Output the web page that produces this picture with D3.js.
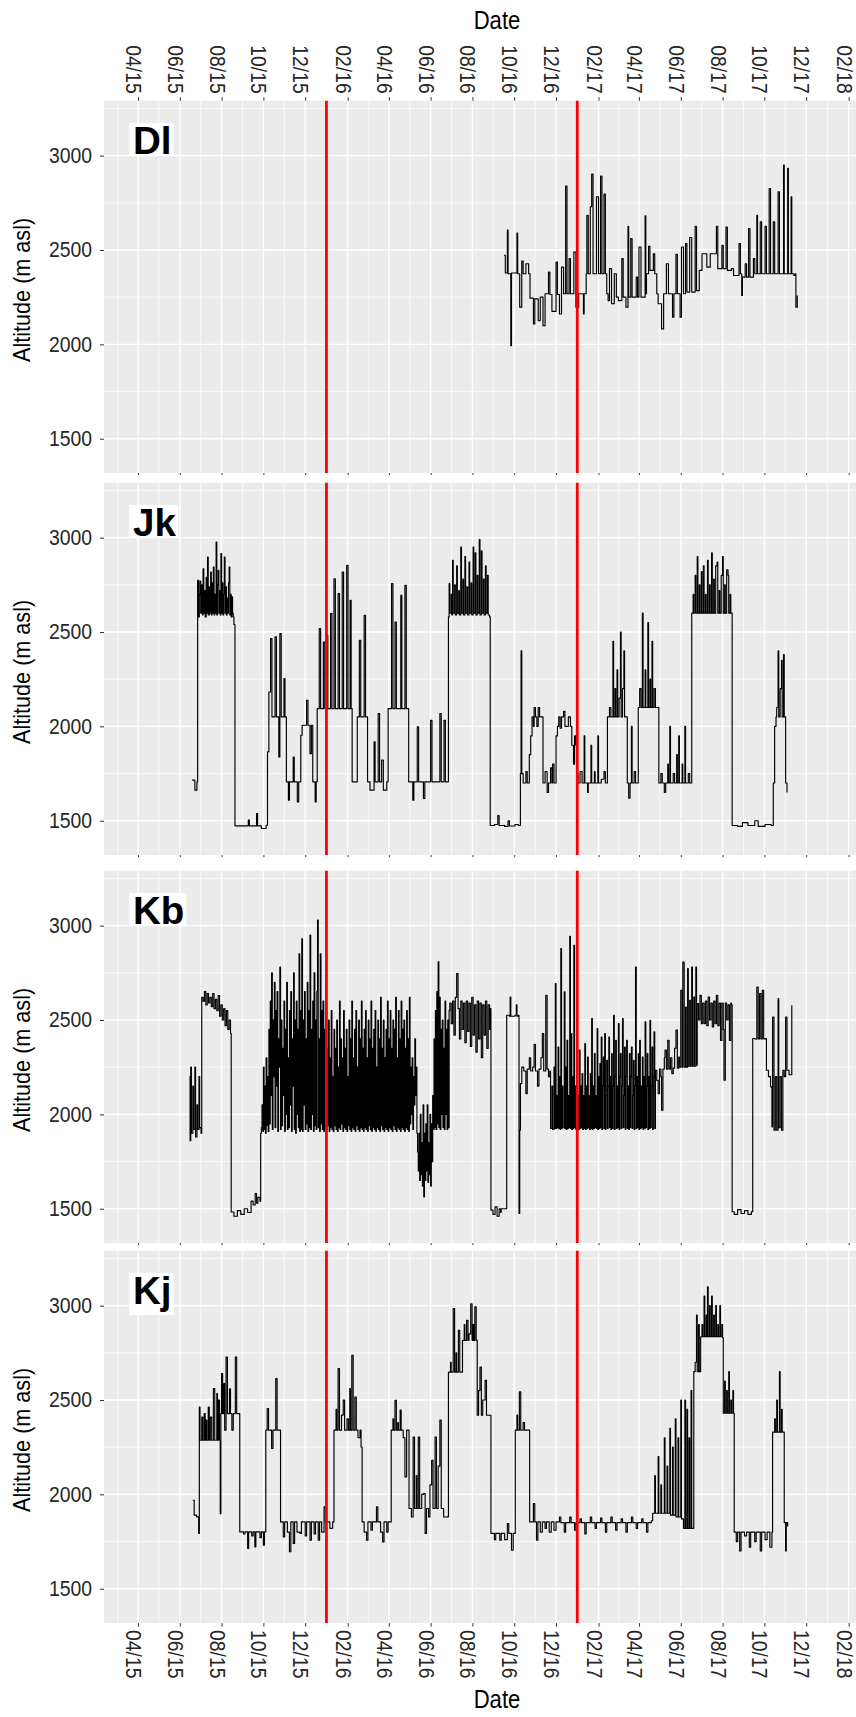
<!DOCTYPE html>
<html>
<head>
<meta charset="utf-8">
<script src="https://cdn.jsdelivr.net/npm/d3@7"></script>
<style>
  body { margin: 0; background: #fff; }
  svg { display: block; font-family: "Liberation Sans", Arial, sans-serif; }
</style>
</head>
<body>
<svg id="chart"></svg>
<script>
// altitude tracks, [day since 2015-01-01, altitude m asl]
const panelNames = ["Dl", "Jk", "Kb", "Kj"];
const xTickLabels = ["04/15", "06/15", "08/15", "10/15", "12/15", "02/16", "04/16", "06/16", "08/16",
  "10/16", "12/16", "02/17", "04/17", "06/17", "08/17", "10/17", "12/17", "02/18"];
const yTickValues = [1500, 2000, 2500, 3000];
const redLineDates = ["2016-01-01", "2017-01-01"];

const dlTrack = [[624,2472],[626,2378],[629,2605],[630,2374],[634,1993],[635,2378],[643,2590],[644,2374],[647,2197],[650,2441],[652,2374],[656,2427],[660,2374],[662,2245],[667,2108],[669,2241],[674,2126],[677,2250],[681,2099],[684,2268],[689,2383],[691,2264],[694,2175],[700,2436],[702,2264],[705,2161],[708,2409],[711,2268],[714,2839],[716,2268],[719,2454],[721,2268],[726,2489],[729,2197],[733,2268],[740,2161],[741,2268],[744,2374],[745,2684],[747,2374],[750,2729],[752,2902],[754,2374],[759,2782],[762,2374],[765,2892],[767,2374],[770,2796],[772,2374],[774,2268],[776,2232],[778,2401],[781,2215],[785,2374],[788,2250],[791,2232],[796,2454],[798,2250],[802,2197],[805,2626],[806,2250],[809,2560],[811,2250],[817,2356],[819,2250],[821,2516],[824,2250],[830,2681],[831,2268],[832,2374],[835,2519],[837,2392],[842,2480],[844,2374],[847,2268],[849,2215],[854,2082],[857,2268],[861,2427],[864,2268],[870,2144],[872,2268],[875,2477],[877,2268],[881,2144],[883,2516],[886,2268],[889,2534],[891,2277],[895,2566],[898,2277],[903,2626],[905,2285],[909,2392],[913,2480],[920,2409],[925,2480],[934,2626],[936,2401],[942,2525],[944,2401],[948,2622],[950,2392],[956,2401],[959,2365],[967,2534],[969,2374],[971,2259],[972,2356],[976,2427],[978,2356],[981,2613],[983,2356],[988,2454],[990,2374],[993,2684],[994,2374],[998,2649],[1000,2374],[1005,2626],[1007,2374],[1011,2826],[1013,2374],[1017,2649],[1019,2374],[1024,2808],[1026,2374],[1032,2950],[1033,2374],[1038,2933],[1039,2374],[1043,2782],[1044,2374],[1047,2365],[1049,2374],[1050,2197],[1052,2259]];

const jkTrack = [[169,1715],[173,1662],[176,1706],[177,2774],[178.5,2580],[179.5,2700],[180.5,2770],[181.5,2600],[183,2750],[184,2590],[185,2835],[186,2600],[187,2720],[188,2580],[189.5,2790],[190.5,2600],[191.5,2897],[192.5,2590],[194,2740],[195,2600],[196,2818],[197,2590],[198,2760],[199,2600],[200,2844],[201,2590],[202,2700],[203,2600],[204,2977],[205,2590],[206,2750],[207,2827],[208,2600],[209,2720],[210,2590],[211,2915],[212,2600],[213,2760],[214,2590],[215,2700],[216,2897],[217,2600],[218,2740],[219,2590],[220,2680],[221,2600],[222,2760],[223,2844],[224,2590],[225,2700],[226,2580],[227,2686],[228,2600],[229,2580],[230,2540],[231.5,1473],[251,1503],[252.5,1473],[263,1538],[264.5,1473],[270,1459],[277,1476],[279,1865],[281,2182],[283.5,2465],[285.5,2050],[290,2474],[292,2050],[295.5,1838],[297,2491],[299,2050],[303,2253],[304.5,2050],[306.5,1706],[309.5,1609],[311,1706],[316.5,1838],[318,1706],[322.5,1600],[324.5,1706],[327.5,1953],[329.5,2006],[336,2138],[338,2006],[341,1856],[343,2006],[345,1706],[348.5,1600],[350,1706],[351.5,2094],[354.5,2518],[356.5,2094],[360.5,2447],[362.5,2094],[365.5,2483],[367,2094],[371,2597],[373,2094],[376,2782],[378,2094],[382,2703],[384,2094],[388,2818],[390,2094],[394.5,2853],[396.5,2094],[399.5,2668],[401,2094],[402.5,1706],[408,1706],[410,2050],[413,2456],[415,2050],[420,2588],[422,2050],[423.5,2050],[425,1706],[428.5,1662],[434.5,1918],[436,1706],[440.5,2068],[442.5,1706],[445.5,1821],[448,1662],[453,1706],[455,2094],[460,2756],[462,2094],[465,2553],[467,2094],[473.5,2694],[475,2094],[479.5,2747],[481.5,2094],[483.5,2094],[485,1706],[491,1609],[492.5,1706],[497.5,1997],[499.5,1706],[506.5,1618],[508.5,1706],[517,2032],[519,1706],[530.5,2068],[532.5,1706],[536.5,2032],[538.5,1706],[541,1706],[543,2580],[544,2756],[545,2600],[547,2700],[548,2590],[549,2880],[550,2600],[552,2750],[553,2590],[555,2850],[556,2600],[558,2720],[559,2590],[561,2950],[562,2600],[564,2780],[565,2590],[567,2900],[568,2600],[570,2740],[571,2590],[573,2870],[574,2600],[576,2760],[577,2590],[579,2950],[580,2600],[582,2920],[583,2590],[585,2800],[586,2600],[588,2990],[589,2590],[591,2930],[592,2600],[594,2780],[595,2590],[597,2850],[598,2600],[600,2800],[601,2590],[603,2580],[604,1475],[610,1480],[615,1527],[617,1475],[625,1470],[630,1500],[632,1472],[640,1480],[645,1475],[648,1750],[649,2400],[650,1750],[652,1700],[656,1760],[658,1700],[661,1850],[663,1950],[665,2050],[667,2000],[668,2100],[670,2050],[672,2000],[674,2100],[676,2050],[679,2050],[681,1700],[684,1760],[687,1650],[689,1700],[692,1780],[694,1700],[695,1800],[697,1700],[700,1950],[702,2000],[704,2050],[706,1990],[708,2050],[711,2080],[713,2000],[716,2000],[718,2050],[721,2000],[723,1900],[725.5,1800],[727,1950],[728.5,1900],[730,1750],[732,1700],[735,1760],[738,1700],[741,1950],[742,1700],[746,1650],[747,1700],[751,1900],[752,1700],[756,1760],[757,1700],[761,1950],[762,1700],[766,1720],[770,1760],[772,1700],[775,2050],[778,2100],[780,2050],[783,2450],[784,2050],[786,2200],[787,2050],[789,2300],[790,2050],[792,2150],[794,2500],[795,2050],[797,2200],[799,2400],[800,2050],[802,2050],[804,1700],[806,1620],[808,1700],[810,2000],[811,1700],[814,1760],[816,1700],[820,2100],[822,2200],[824,2100],[826,2600],[827,2100],[830,2300],[831,2100],[834,2550],[835,2100],[837,2250],[838,2100],[840,2450],[841,2100],[843,2200],[845,2100],[848,2100],[850,1700],[853,1750],[855,1700],[858,1650],[860,1700],[863,1800],[864,1700],[866,2000],[867,1700],[871,1750],[873,1700],[876,1850],[877,1700],[879,1950],[880,1700],[884,1800],[885,1700],[888,2000],[889,1700],[893,1750],[895,1700],[898,2600],[900,2700],[901,2600],[903,2800],[904,2600],[906,2900],[907,2600],[909,2750],[910,2600],[912,2820],[913,2600],[915,2850],[916,2600],[918,2700],[919,2600],[921,2880],[922,2600],[924,2750],[925,2600],[927,2920],[928,2600],[930,2780],[931,2600],[933,2850],[935,2870],[936,2600],[938,2720],[939,2600],[941,2800],[943,2900],[944,2600],[946,2750],[947,2600],[949,2830],[951,2800],[952,2600],[954,2700],[955,2600],[957,1475],[965,1470],[972,1490],[980,1475],[990,1500],[995,1470],[1005,1480],[1014,1475],[1017,1700],[1019,2000],[1021,2050],[1022,2100],[1024,2400],[1025,2050],[1027,2200],[1029,2350],[1030,2050],[1032,2380],[1033,2050],[1035,1700],[1037,1650]];

const kbTrackStart = [[165,2200],[166,1860],[167,2250],[168,1900],[170,2150],[171,1920],[173,2250],[174,1880],[176,2050],[177,1920],[179,2200],[180,1930],[182,1900],[183,2620],[185,2600],[187,2650],[189,2580],[191,2640],[193,2590],[195,2620],[197,2570],[199,2640],[201,2560],[203,2610],[205,2550],[207,2630],[209,2520],[211,2580],[213,2500],[215,2560],[217,2470],[219,2550],[221,2450],[223,2500],[225,2430],[226,1483],[230,1460],[235,1490],[240,1470],[245,1500],[250,1480],[255,1540],[258,1520],[261,1580],[263,1530],[265,1560],[268,1540],[269,1900]];

// daily values from day 270 onward (dense part)
const kbDenseFirstDay = 270;
const kbDense = [
  1930,2050,1910,2250,1920,2150,1900,2300,1940,2200,
  1910,2450,1950,2600,2100,2750,1920,2500,2200,2700,
  1930,2550,2150,2650,1910,2400,2250,2780,1920,2500,
  1940,2350,2100,2600,1910,2450,2000,2700,1920,2300,
  1930,2550,2050,2650,1910,2400,2150,2750,1920,2500,
  1900,2600,2000,2450,1930,2850,1910,2550,1920,2930,
  1910,2500,2050,2650,1920,2400,1950,2700,1910,2550,
  1930,2950,1920,2450,2000,2600,1910,2750,1940,2500,
  1920,2650,3030,1930,2400,1910,2850,1950,2550,1920,
  2600,1910,2450,1930,2700,1920,2350,1940,2500,1910,
  2300,1930,2550,1920,2200,1910,2450,1940,2350,1920,
  2500,1910,2250,1930,2600,1920,2400,1950,2300,1910,
  2550,1930,2350,1920,2450,1910,2200,1940,2500,1920,
  2400,1910,2600,1930,2300,1920,2450,1910,2550,1940,
  2250,1920,2500,1910,2400,1930,2600,1920,2350,1910,
  2450,1930,2550,1920,2300,1910,2500,1940,2400,1920,
  2600,1910,2350,1930,2450,1920,2550,1910,2250,1930,
  2500,1920,2400,1910,2620,1940,2350,1920,2500,1910,
  2300,1930,2450,1920,2600,1910,2400,1930,2550,1920,
  2350,1910,2500,1940,2450,1920,2620,1910,2300,1930,
  2550,1920,2400,1910,2600,1930,2450,1920,2500,1910,
  2350,1930,2550,1920,2400,1910,2620,1950,2250,2000,
  2300,1920,2200,2050,2400,2100,2250,1900,1800,1700,
  1900,1650,2000,1680,1850,1620,2050,1563,1900,1650,
  1950,1700,2050,1640,1850,1680,2000,1620,1950,1750,
  2100,1920,2400,1930,2550,1920,2650,1950,2808,1930,
  2620,1920,2450,2000,2500,1930,2350,1920,2600,2000,
  2450,1920,2500,1930,2550];

const kbTrackEnd = [[545,2590],[547,2480],[549,2600],[551,2420],[553,2620],[555,2746],[557,2560],[559,2400],[561,2600],[563,2450],[565,2590],[567,2380],[569,2600],[571,2440],[573,2590],[575,2360],[577,2620],[579,2420],[581,2580],[583,2330],[585,2600],[587,2400],[589,2590],[591,2300],[593,2580],[595,2420],[597,2600],[599,2350],[601,2580],[603,2450],[604,2560],[605,1493],[608,1470],[611,1510],[614,1460],[617,1500],[619,1480],[620,1500],[628,2525],[632,2520],[633,2622],[634,2520],[640,2525],[642,2580],[643,2520],[645,2525],[646,1475],[647,1916],[648,2163],[650,2250],[653,2230],[656,2110],[658,2240],[661,2300],[663,2230],[666,2250],[668,2371],[670,2230],[673,2150],[675,2240],[678,2300],[680,2428],[682,2230],[685,2631],[687,2240],[689,2200],[691,2230],
  [692,1925],[694,2150],[695,1920],[697,2250],[698,1925],[699,2693],[700,1925],[701,2100],[702,1930],[703,2357],[704,1925],[705,2200],[706,1920],[707,2878],[708,1925],[709,2150],[710,1930],[712,2649],[713,1925],[714,2250],[715,1920],[716,2392],[717,1925],[718,2100],[719,1930],[720,2943],[721,1925],[722,2428],[723,1920],[724,2200],[725,1925],[726,2896],[727,1930],[728,2150],[729,1920],[730,2322],[731,1925],[732,2100],[733,1920],[734,2340],[735,1925],[736,2150],[737,1930],[738,2216],[739,1920],[740,2100],[741,1925],[742,2375],[743,1920],[744,2150],[745,1925],[746,2304],[747,1930],[748,2100],[749,1920],[750,2216],[751,1925],[752,2507],[753,1920],[754,2150],[755,1925],[756,2322],[757,1930],[758,2100],[759,1925],[760,2455],[761,1920],[762,2200],[763,1925],[764,2269],[765,1930],[766,2410],[767,1920],[768,2150],[769,2304],[770,1925],[771,2428],[772,1920],[773,2100],[774,2287],[775,1925],[776,2150],[777,2410],[778,1930],[779,2200],[780,1920],[781,2322],[782,1925],[783,2150],[784,2525],[785,1920],[786,2200],[787,2392],[788,1925],[789,2150],[790,1930],[791,2481],[792,1920],[793,2200],[794,2322],[795,1925],[796,2150],[797,2507],[798,1930],[799,2100],[800,2357],[801,1920],[802,2200],[803,2392],[804,1925],[805,2150],[806,1920],[807,2322],[808,1930],[809,2200],[810,2357],[811,1925],[812,2100],[813,2287],[814,1920],[815,2150],[816,2781],[817,1925],[818,2200],[819,1930],[820,2322],[821,1920],[822,2392],[823,1925],[824,2150],[825,1930],[826,2304],[827,1920],[828,2200],[829,1925],[830,2490],[831,1930],[832,2150],[833,2322],[834,1920],[835,2200],[836,1925],[837,2498],[838,1930],[839,2150],[840,2357],[841,1920],[842,2200],[843,2437],[844,1925],
  [845,2234],[847,2180],[849,2110],[851,2240],[853,2200],[854,2022],[856,2240],[858,2300],[859,2340],[861,2240],[863,2392],[865,2240],[867,2300],[869,2216],[871,2245],[873,2350],[875,2446],[877,2245],[879,2304],[880,2250],[882,2657],[884,2250],[885,2807],[887,2250],[889,2569],[890,2250],[892,2772],[893,2255],[895,2604],[896,2255],[898,2781],[899,2255],[901,2622],[902,2255],[904,2781],[905,2260],[906,2587],[908,2500],[910,2631],[912,2480],[914,2590],[916,2481],[918,2600],[920,2470],[922,2622],[924,2500],[926,2590],[928,2463],[930,2600],[932,2480],[934,2631],[936,2470],[938,2590],[940,2392],[942,2590],[944,2450],[945,2181],[947,2590],[949,2500],[951,2580],[953,2392],[955,2590],[956,2580],[957,1484],[960,1470],[965,1495],[970,1475],[975,1490],[980,1470],[985,1484],[987,2402],[990,2400],[993,2675],[995,2400],[997,2640],[999,2400],[1001,2657],[1003,2400],[1006,2402],[1007,2234],[1010,2200],[1013,2146],[1015,1934],[1016,2516],[1018,1916],[1020,2200],[1022,1916],[1024,2613],[1025,1930],[1027,2200],[1029,1916],[1031,2234],[1033,2200],[1035,2516],[1037,2234],[1040,2210],[1044,2578]];

const kjTrack = [[170,1969],[172,1890],[175.5,1881],[178.5,1793],[179.5,2463],[180.5,2287],[183,2410],[184.5,2287],[186.5,2428],[188,2287],[189,2393],[190.5,2287],[192.5,2463],[194,2287],[195.5,2410],[197.5,2287],[200,2560],[202,2287],[205,2534],[206,2287],[207.5,2499],[209,2287],[210,1898],[211,2428],[212,2640],[213.5,2428],[215,2587],[216.5,2340],[218.5,2728],[220.5,2428],[223.5,2559],[225,2428],[227,2340],[229,2428],[232,2728],[234,2428],[237,2428],[238.5,1801],[244,1790],[246,1801],[250,1713],[251.5,1801],[256,1780],[258,1801],[260.5,1722],[262,1801],[268,1770],[270,1801],[273,1731],[274.5,1801],[276.5,2340],[278.5,2455],[280.5,2340],[285,2243],[287,2340],[291,2613],[293,2340],[296,2340],[298,1854],[302,1775],[304,1854],[308,1800],[311,1696],[313,1854],[316.5,1740],[318.5,1854],[322,1800],[326.5,1793],[328.5,1854],[334,1780],[336,1854],[341,1757],[343,1854],[347,1790],[349,1854],[353,1757],[355,1854],[358,1800],[361.5,1934],[363.5,1854],[370,1820],[374,1854],[376,2340],[379,2450],[380,2340],[382,2666],[384,2340],[387,2420],[389.5,2499],[391.5,2340],[395,2400],[397,2340],[399,2560],[400,2340],[402,2737],[404,2340],[406.5,2516],[408.5,2340],[411,2300],[414,2340],[415.5,2251],[417,1854],[420,1800],[423.5,1757],[425.5,1854],[430,1810],[432,1854],[438,1934],[440,1854],[444,1800],[447,1748],[449,1854],[453,1800],[455,1854],[458,1854],[459.5,2340],[462,2400],[463,2340],[465,2498],[467,2340],[469,2380],[470,2340],[472.5,2446],[474,2340],[477,2300],[479.5,2093],[482,2340],[484,2340],[485.5,1925],[489,1880],[491.5,2304],[493.5,1925],[496,2100],[497,1925],[499,2304],[501,1925],[504,2000],[506.5,2004],[509,1793],[511,1925],[514,1880],[516,2050],[518.5,2181],[520.5,1925],[523.5,2304],[525.5,1925],[528,2150],[530.5,2393],[532.5,1925],[536,1880],[540.5,1881],[543,2648],[546,2700],[547,2648],[550,2984],[552,2648],[554,2750],[555,2648],[557.5,2869],[559.5,2648],[562,2648],[563.5,2816],[566,2900],[567,2816],[569.5,2922],[571.5,2816],[573,2850],[575.5,3010],[577.5,2816],[579,2900],[580,2816],[581.5,2993],[583.5,2816],[585,2419],[587,2550],[589,2675],[591,2419],[593,2500],[596.5,2604],[598.5,2419],[603.5,2419],[605,1793],[610,1760],[612,1793],[618,1757],[620,1793],[625,1760],[629,1845],[631,1793],[635,1704],[637.5,1793],[640.5,2340],[643,2420],[644,2340],[646.5,2543],[648.5,2340],[652,2380],[654,2340],[659.5,2340],[661.5,1854],[667,1951],[669,1854],[671.5,1757],[673.5,1854],[677,1800],[680,1854],[684,1820],[686,1854],[690,1800],[693,1854],[697,1810],[700,1854],[705,1880],[707,1850],[712,1800],[714,1850],[720,1880],[722,1850],[727,1810],[729,1850],[735,1870],[737,1850],[742,1790],[744,1850],[750,1880],[752,1850],[757,1820],[759,1850],[765,1875],[767,1850],[772,1800],[774,1850],[780,1880],[782,1850],[787,1810],[789,1850],[795,1870],[797,1850],[802,1800],[804,1850],[810,1880],[812,1850],[817,1820],[819,1850],[825,1870],[827,1850],[832,1800],[834,1850],[839,1860],[841,1900],[844,2100],[845,1900],[849,2200],[850,1900],[853,2050],[854,1900],[858,2300],[859,1900],[862,2150],[863,1900],[866,2350],[867,1890],[870,2250],[871,1890],[874,2400],[875,1880],[878,2300],[879,1880],[882,2500],[883,1870],[886,1820],[888,2500],[889,1820],[891,2450],[892,1820],[894,2300],[895,1820],[897,2550],[898,1820],[900,1820],[901,2650],[903,2700],[905,2950],[906,2650],[908,2900],[909,2650],[911,2835],[913,2900],[914,2835],[916,3050],[917,2835],[919,2950],[920,2835],[921,3100],[922,2835],[924,3000],[925,2835],[927,3050],[928,2835],[930,2950],[931,2835],[933,3000],[934,2835],[936,2900],[937,2835],[939,3000],[940,2835],[942,2900],[943,2830],[944,2430],[946,2600],[947,2430],[949,2550],[950,2430],[952,2650],[953,2430],[955,2500],[956,2430],[958,2550],[959,2430],[960,1800],[963,1750],[965,1800],[968,1700],[970,1800],[975,1780],[978,1800],[982,1720],[984,1800],[990,1750],[992,1800],[998,1700],[1000,1800],[1005,1760],[1008,1800],[1012,1720],[1015,1800],[1016,2330],[1019,2400],[1020,2330],[1022,2500],[1023,2330],[1026,2650],[1027,2330],[1029,2450],[1030,2330],[1032,2330],[1033,1850],[1035,1700],[1036,1850],[1038,1830]];

const kbTrack = kbTrackStart
  .concat(kbDense.map((v, i) => [kbDenseFirstDay + i, v]))
  .concat(kbTrackEnd);
const tracks = [dlTrack, jkTrack, kbTrack, kjTrack];

// layout
const width = 856, height = 1717;
const panelLeft = 104, panelRight = 856;
const panelTops = [100.7, 482.7, 870.7, 1250.7];
const panelH = 372.4;
const textColor = "#262626";
const fontFam = '"Liberation Sans", Arial, sans-serif';

const svg = d3.select("#chart").attr("width", width).attr("height", height);
svg.append("rect").attr("width", width).attr("height", height).attr("fill", "#fff");

const t0 = Date.UTC(2015, 0, 1);
const dayToDate = d => new Date(t0 + d * 864e5);
const x = d3.scaleUtc()
  .domain([dayToDate(40.4), dayToDate(1137.7)])
  .range([panelLeft, panelRight]);

const parseTick = d3.utcParse("%m/%y");
const tickDates = xTickLabels.map(parseTick);
const fmtTick = d3.utcFormat("%m/%y");

// minor grid = midpoints between majors
const extTicks = [d3.utcMonth.offset(tickDates[0], -2), ...tickDates, d3.utcMonth.offset(tickDates[tickDates.length - 1], 2)];
const xMinor = d3.pairs(extTicks).map(([a, b]) => new Date((+a + +b) / 2))
  .filter(d => d >= x.domain()[0] && d <= x.domain()[1]);
const yMinorAll = d3.pairs([1000, ...yTickValues, 3500]).map(([a, b]) => (a + b) / 2);

const yDomain = [1318, 3291];

// squeeze text a bit horizontally, the original font is narrow
function squeeze(sel, k) {
  sel.each(function () {
    const w = this.getComputedTextLength();
    d3.select(this).attr("textLength", w * k).attr("lengthAdjust", "spacingAndGlyphs");
  });
}

const line = d3.line().curve(d3.curveStepAfter);

panelNames.forEach((name, i) => {
  const top = panelTops[i];
  const y = d3.scaleLinear().domain(yDomain).range([top + panelH, top]);
  const g = svg.append("g");

  g.append("rect")
    .attr("x", panelLeft).attr("y", top)
    .attr("width", panelRight - panelLeft).attr("height", panelH)
    .attr("fill", "#EBEBEB");

  const yMinor = yMinorAll.filter(v => v >= yDomain[0] && v <= yDomain[1]);

  // grid
  g.selectAll(".gxm").data(xMinor).join("line")
    .attr("x1", d => x(d)).attr("x2", d => x(d))
    .attr("y1", top).attr("y2", top + panelH)
    .attr("stroke", "#fff").attr("stroke-width", 0.7);
  g.selectAll(".gym").data(yMinor).join("line")
    .attr("x1", panelLeft).attr("x2", panelRight)
    .attr("y1", d => y(d)).attr("y2", d => y(d))
    .attr("stroke", "#fff").attr("stroke-width", 0.7);
  g.selectAll(".gx").data(tickDates).join("line")
    .attr("x1", d => x(d)).attr("x2", d => x(d))
    .attr("y1", top).attr("y2", top + panelH)
    .attr("stroke", "#fff").attr("stroke-width", 1.4);
  g.selectAll(".gy").data(yTickValues).join("line")
    .attr("x1", panelLeft).attr("x2", panelRight)
    .attr("y1", d => y(d)).attr("y2", d => y(d))
    .attr("stroke", "#fff").attr("stroke-width", 1.4);

  // altitude track
  line.x(d => x(dayToDate(d[0]))).y(d => y(d[1]));
  g.append("path")
    .datum(tracks[i])
    .attr("d", line)
    .attr("fill", "none")
    .attr("stroke", "#000")
    .attr("stroke-width", 1.15)
    .attr("stroke-linejoin", "round");

  // red reference lines
  g.selectAll(".red").data(redLineDates).join("line")
    .attr("x1", d => x(new Date(d))).attr("x2", d => x(new Date(d)))
    .attr("y1", top).attr("y2", top + panelH)
    .attr("stroke", "#FF0000").attr("stroke-width", 2.8);

  // y axis
  const yAxis = g.append("g")
    .attr("transform", `translate(${panelLeft},0)`)
    .call(d3.axisLeft(y).tickValues(yTickValues).tickFormat(d3.format("d")).tickSize(4).tickPadding(8));
  yAxis.select(".domain").remove();
  yAxis.selectAll("line").attr("stroke", "#333");
  yAxis.selectAll("text")
    .attr("fill", textColor)
    .attr("font-size", 21.5)
    .attr("font-family", fontFam)
    .call(squeeze, 0.9);

  g.append("text")
    .attr("transform", `translate(30,${top + panelH / 2 + 3}) rotate(-90)`)
    .attr("text-anchor", "middle")
    .attr("font-size", 24)
    .attr("fill", "#000")
    .text("Altitude (m asl)")
    .call(squeeze, 0.9);

  // x axis: labelled on top for first panel, bottom for last, tiny ticks otherwise
  if (i === 0) {
    const ax = g.append("g")
      .attr("transform", `translate(0,${top})`)
      .call(d3.axisTop(x).tickValues(tickDates).tickFormat(fmtTick).tickSize(3.5));
    ax.select(".domain").remove();
    ax.selectAll("line").attr("stroke", "#333");
    ax.selectAll("text")
      .attr("transform", "rotate(90)")
      .attr("x", -7).attr("y", 0).attr("dy", "0.58em")
      .style("text-anchor", "end")
      .attr("fill", textColor)
      .attr("font-size", 21.5)
      .attr("font-family", fontFam)
      .call(squeeze, 0.9);
    svg.append("text")
      .attr("x", 497).attr("y", 29)
      .attr("text-anchor", "middle")
      .attr("font-size", 26)
      .text("Date")
      .call(squeeze, 0.85);
  }
  if (i === panelNames.length - 1) {
    const ax = g.append("g")
      .attr("transform", `translate(0,${top + panelH})`)
      .call(d3.axisBottom(x).tickValues(tickDates).tickFormat(fmtTick).tickSize(3.5));
    ax.select(".domain").remove();
    ax.selectAll("line").attr("stroke", "#333");
    ax.selectAll("text")
      .attr("transform", "rotate(90)")
      .attr("x", 7).attr("y", 0).attr("dy", "0.58em")
      .style("text-anchor", "start")
      .attr("fill", textColor)
      .attr("font-size", 21.5)
      .attr("font-family", fontFam)
      .call(squeeze, 0.9);
    svg.append("text")
      .attr("x", 497).attr("y", 1708)
      .attr("text-anchor", "middle")
      .attr("font-size", 26)
      .text("Date")
      .call(squeeze, 0.85);
  } else {
    const ax = g.append("g")
      .attr("transform", `translate(0,${top + panelH})`)
      .call(d3.axisBottom(x).tickValues(tickDates).tickFormat("").tickSize(2));
    ax.select(".domain").remove();
    ax.selectAll("line").attr("stroke", "#333");
  }

  // panel label with white box
  const labY = y(3010);
  const fs = 38.6;
  const lab = g.append("text")
    .attr("x", 133).attr("y", labY)
    .attr("font-size", fs)
    .attr("font-weight", "bold")
    .attr("fill", "#000")
    .text(name);
  const w = lab.node().getComputedTextLength();
  const desc = /[gjpqy]/.test(name) ? 9.5 : 0;
  g.insert("rect", () => lab.node())
    .attr("x", 133 - 3.7)
    .attr("y", labY - 0.716 * fs - 3)
    .attr("width", w + 5.7)
    .attr("height", 0.716 * fs + 4.7 + desc)
    .attr("fill", "#fff");
});
</script>
</body>
</html>
